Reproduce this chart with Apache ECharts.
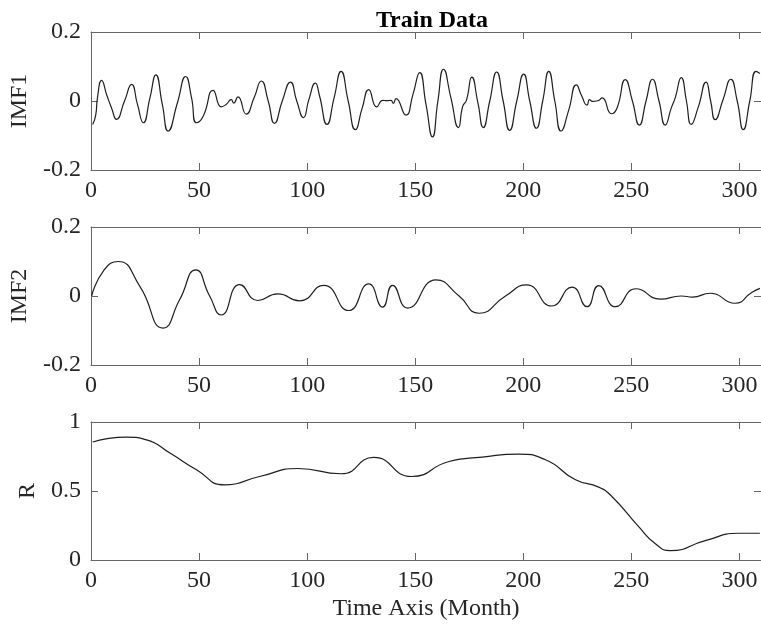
<!DOCTYPE html>
<html>
<head>
<meta charset="utf-8">
<script src="https://cdn.jsdelivr.net/npm/echarts@6/dist/echarts.min.js"></script>
<style>html,body{margin:0;padding:0;background:#fff;}#c{width:761px;height:627px;}</style>
</head>
<body>
<div id="c"></div>
<script>
const titleText = 'Train Data';
const xName = 'Time Axis (Month)';
const yNames = ['IMF1', 'IMF2', 'R'];
const xTicks = [0, 50, 100, 150, 200, 250, 300];

const imf1X = [0.8,2.2,3,4.9,7.4,9.5,11.8,15.5,18.8,21.5,24.2,27.3,30,33,35.7,40,43.8,46.5,48.8,51.9,56.5,60.3,62.5,64.9,66,68,71.8,75.5,78.8,82,84.9,88.5,92.3,95.2,98.3,100.8,103.8,105.7,109.2,112.5,115.7,119,122.3,125.5,128.5,132.2,135,136.8,138.8,139.9,141.1,145.7,149,152.1,155,158,160.5,163.1,166.5,170,172,173.7,176.2,179,181.5,184.5,187.7,190.7,193.7,197,200.2,203,206.1,209,211.8,214.6,217.5,221,224.6,227,229.5,230.7,232,234.7,236.5,240.8,243.4,247.2,250.5,253.7,256.8,259.8,262.8,265.7,268.5,270.3,273.1,275.5,277.7,281,284.6,286.7,288.8,292.5,296,299,301.8,304.8,307.7,309.5];
const imf1Y = [-0.068,-0.04,0.01,0.06,0.015,-0.02,-0.053,0,0.048,-0.01,-0.063,0.01,0.076,-0.01,-0.087,-0.005,0.071,0.01,-0.063,-0.044,0.031,-0.017,-0.01,0.004,-0.006,0.012,-0.038,0.01,0.058,0,-0.065,0,0.055,0,-0.048,0.004,0.052,0.016,-0.068,0.01,0.086,0,-0.083,-0.02,0.033,-0.017,0.002,0.001,0.002,-0.007,0.007,-0.041,0.02,0.082,-0.01,-0.104,0,0.092,0.01,-0.077,-0.015,0.002,0.069,-0.005,-0.077,0,0.084,0,-0.085,0,0.078,0,-0.079,0,0.086,0,-0.087,-0.027,0.047,0.015,-0.012,0.004,-0.001,0.001,0.009,-0.037,-0.02,0.062,0,-0.07,0,0.063,0,-0.07,-0.02,0.009,0.068,0,-0.068,-0.017,0.055,0,-0.054,0.005,0.063,0,-0.083,0,0.086,0.08];

const imf2X = [0.3,6,12.6,22.6,33.4,41,48.5,54.9,60.3,68.8,77.2,86.4,96.5,107.7,119.2,128.5,134.9,139.5,146.5,159.6,170.3,179.5,191.8,201.5,213.1,222.6,229.5,234.9,242.6,252.1,263.4,273.1,278.3,286.5,298,305.7,309.5];
const imf2Y = [0,0.075,0.1,0.028,-0.093,-0.011,0.076,0,-0.055,0.033,-0.013,0.006,-0.014,0.031,-0.042,0.035,-0.032,0.031,-0.035,0.047,0,-0.05,0,0.032,-0.029,0.026,-0.031,0.03,-0.031,0.021,-0.009,0,-0.003,0.008,-0.021,0.01,0.022];

const rX = [0.8,16.5,25.7,36.5,48.8,61.8,78,95.7,115.7,130.8,148.3,165.7,181,198,210.3,224.2,234.9,241,253.4,261,268,284.2,299.5,309.5];
const rY = [0.855,0.891,0.871,0.775,0.654,0.545,0.605,0.663,0.625,0.743,0.605,0.714,0.746,0.767,0.726,0.581,0.528,0.46,0.242,0.12,0.068,0.14,0.194,0.194];

const yRanges = [[-0.2, 0.2, 0.2], [-0.2, 0.2, 0.2], [0, 1, 0.5]];

const zip = (a, b) => a.map((v, i) => [v, b[i]]);
const seriesData = [zip(imf1X, imf1Y), zip(imf2X, imf2Y), zip(rX, rY)];

const FONT = 'Liberation Serif';
const AX = '#666';
const TXT = '#262626';
const grids = [
  {left: 91, width: 672, top: 32, height: 138},
  {left: 91, width: 672, top: 227, height: 138},
  {left: 91, width: 672, top: 422, height: 138}
];

const xAxes = [], yAxes = [], series = [];
for (let i = 0; i < 3; i++) {
  const base = {
    type: 'value', gridIndex: i, min: 0, max: 310, interval: 50,
    splitLine: {show: false},
    axisLine: {show: true, onZero: false, lineStyle: {color: AX, width: 1}},
    axisTick: {show: true, inside: true, length: 7, lineStyle: {color: AX}}
  };
  xAxes.push(Object.assign({}, base, {
    position: 'bottom',
    axisLabel: {show: true, color: TXT, fontFamily: FONT, fontSize: 24, margin: 9},
    name: i === 2 ? xName : '',
    nameLocation: 'middle', nameGap: 37,
    nameTextStyle: {color: TXT, fontFamily: FONT, fontSize: 24}
  }));
  xAxes.push(Object.assign({}, base, {position: 'top', axisLabel: {show: false}}));
  const [mn, mx, iv] = yRanges[i];
  const ybase = {
    type: 'value', gridIndex: i, min: mn, max: mx, interval: iv,
    splitLine: {show: false},
    axisLine: {show: true, onZero: false, lineStyle: {color: AX, width: 1}},
    axisTick: {show: true, inside: true, length: 7, lineStyle: {color: AX}}
  };
  yAxes.push(Object.assign({}, ybase, {
    position: 'left',
    axisLabel: {show: true, color: TXT, fontFamily: FONT, fontSize: 24, margin: 10},
    name: yNames[i], nameLocation: 'middle', nameGap: 43, nameRotate: 90,
    nameTextStyle: {color: TXT, fontFamily: FONT, fontSize: 24}
  }));
  yAxes.push(Object.assign({}, ybase, {position: 'right', axisLabel: {show: false}}));
  series.push({
    type: 'line', xAxisIndex: i * 2, yAxisIndex: i * 2,
    data: seriesData[i], showSymbol: false, symbol: 'none',
    smooth: 0.55, lineStyle: {color: '#1f1f1f', width: 1.2},
    clip: true, silent: true, animation: false
  });
}

const chart = echarts.init(document.getElementById('c'), null, {renderer: 'canvas'});
chart.setOption({
  backgroundColor: '#fff',
  animation: false,
  title: {
    text: titleText, left: 427, top: 4, textAlign: 'center',
    textStyle: {fontFamily: FONT, fontSize: 24, fontWeight: 'bold', color: '#000'}
  },
  grid: grids,
  xAxis: xAxes,
  yAxis: yAxes,
  series: series
});
</script>
</body>
</html>
